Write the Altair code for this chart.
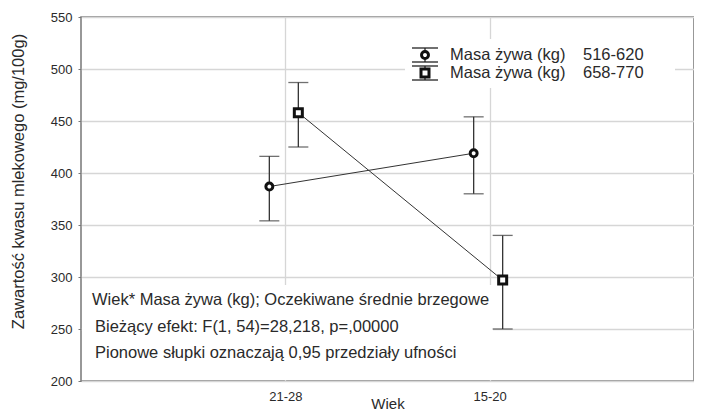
import altair as alt
import pandas as pd

# ---- data ----
ages = ["21-28", "15-20"]
groups = ["516-620", "658-770"]
mean_516 = [387, 419]
low_516 = [354, 380]
high_516 = [416, 454]
mean_658 = [458, 297]
low_658 = [425, 250]
high_658 = [487, 340]

y_ticks = [200, 250, 300, 350, 400, 450, 500, 550]
y_title = "Zawartość kwasu mlekowego (mg/100g)"
x_title = "Wiek"
legend_prefix = "Masa żywa (kg)"
notes = [
    "Wiek* Masa żywa (kg); Oczekiwane średnie brzegowe",
    "Bieżący efekt: F(1, 54)=28,218, p=,00000",
    "Pionowe słupki oznaczają 0,95 przedziały ufności",
]

FONT = "Liberation Sans"
TXT = "#2a2a2a"
W, H = 613, 364

df = pd.DataFrame({
    "Wiek": ages * 2,
    "grupa": [groups[0]] * 2 + [groups[1]] * 2,
    "mean": mean_516 + mean_658,
    "lo": low_516 + low_658,
    "hi": high_516 + high_658,
})

x_scale = alt.Scale(type="point", domain=ages, padding=1)
x_axis = alt.Axis(title=x_title, labelAngle=0, grid=True, ticks=False,
                  labelPadding=9, labelFontSize=13, labelColor=TXT,
                  titleFontSize=15, titleColor=TXT, titleFontWeight="normal",
                  titleY=22, titleBaseline="middle", domain=False,
                  gridColor="#d6d6d6", gridWidth=1.3)
y_scale = alt.Scale(domain=[200, 550], nice=False, zero=False)
y_axis = alt.Axis(title=y_title, values=y_ticks, grid=True, tickSize=3, tickColor="#777",
                  labelPadding=6, labelFontSize=13, labelColor=TXT,
                  titleFontSize=16.5, titleColor=TXT, titleFontWeight="normal",
                  titleX=-63, titleY=164, titleAngle=270, titleAlign="center",
                  titleBaseline="middle", domain=False,
                  gridColor="#d6d6d6", gridWidth=1.3)

def X():
    return alt.X("Wiek:N", sort=ages, scale=x_scale, axis=x_axis)

def Y(field):
    return alt.Y(field, type="quantitative", scale=y_scale, axis=y_axis)

one = pd.DataFrame({"k": [0]})

base_axes = alt.Chart(df).mark_point(opacity=0).encode(x=X(), y=Y("mean"))

# white box behind the notes (covers the gridlines)
note_box = alt.Chart(one).mark_rect(fill="white").encode(
    x=alt.value(1), x2=alt.value(412), y=alt.value(268), y2=alt.value(363))

layers = [base_axes, note_box]

def series(g, shape, dx, size):
    c = alt.Chart(df[df["grupa"] == g])
    bar = c.mark_rule(color="#333", strokeWidth=1.3, xOffset=dx).encode(
        x=X(), y=Y("lo"), y2="hi:Q")
    cap_lo = c.mark_tick(color="#333", thickness=1.3, size=20, xOffset=dx).encode(
        x=X(), y=Y("lo"))
    cap_hi = c.mark_tick(color="#333", thickness=1.3, size=20, xOffset=dx).encode(
        x=X(), y=Y("hi"))
    line = c.mark_line(color="#333", strokeWidth=1, xOffset=dx).encode(
        x=X(), y=Y("mean"))
    pts = c.mark_point(shape=shape, fill="white", fillOpacity=1, stroke="#111",
                       strokeWidth=3, size=size, opacity=1, xOffset=dx).encode(
        x=X(), y=Y("mean"))
    return [bar, cap_lo, cap_hi, line, pts]

layers += series(groups[0], "circle", -16, 48)
layers += series(groups[1], "square", 13, 64)

# notes
note_pos = [(11, 283), (14, 310), (14, 336)]
for t, (nx, ny) in zip(notes, note_pos):
    layers.append(alt.Chart(one).mark_text(
        align="left", baseline="middle", font=FONT, fontSize=16.5, color=TXT).encode(
        x=alt.value(nx), y=alt.value(ny), text=alt.value(t)))

# legend
layers.append(alt.Chart(one).mark_rect(fill="white").encode(
    x=alt.value(324), x2=alt.value(594), y=alt.value(22), y2=alt.value(71)))
leg_rows = [(38, "circle", 48), (56, "square", 64)]
for g, (ly, shp, sz) in zip(groups, leg_rows):
    for yy in (ly - 7, ly + 7):
        layers.append(alt.Chart(one).mark_rule(color="#222", strokeWidth=1.3).encode(
            x=alt.value(331), x2=alt.value(357), y=alt.value(yy)))
    layers.append(alt.Chart(one).mark_rule(color="#222", strokeWidth=1.3).encode(
        x=alt.value(344), y=alt.value(ly - 7), y2=alt.value(ly + 7)))
    layers.append(alt.Chart(one).mark_point(shape=shp, fill="white", fillOpacity=1,
                                            stroke="#111", strokeWidth=3, size=sz,
                                            opacity=1).encode(
        x=alt.value(344), y=alt.value(ly)))
    layers.append(alt.Chart(one).mark_text(align="left", baseline="middle", font=FONT,
                                           fontSize=16.5, color=TXT).encode(
        x=alt.value(369), y=alt.value(ly), text=alt.value(legend_prefix)))
    layers.append(alt.Chart(one).mark_text(align="left", baseline="middle", font=FONT,
                                           fontSize=16.5, color=TXT).encode(
        x=alt.value(502), y=alt.value(ly), text=alt.value(g)))

chart = alt.layer(*layers).properties(
    width=W, height=H,
    autosize=alt.AutoSizeParams(type="none"),
    padding={"left": 73, "top": 9, "right": 0, "bottom": 30},
).configure(font=FONT).configure_view(stroke="#777", strokeWidth=1.5)

chart.save("out.html", embed_options={"renderer": "svg", "actions": False})
